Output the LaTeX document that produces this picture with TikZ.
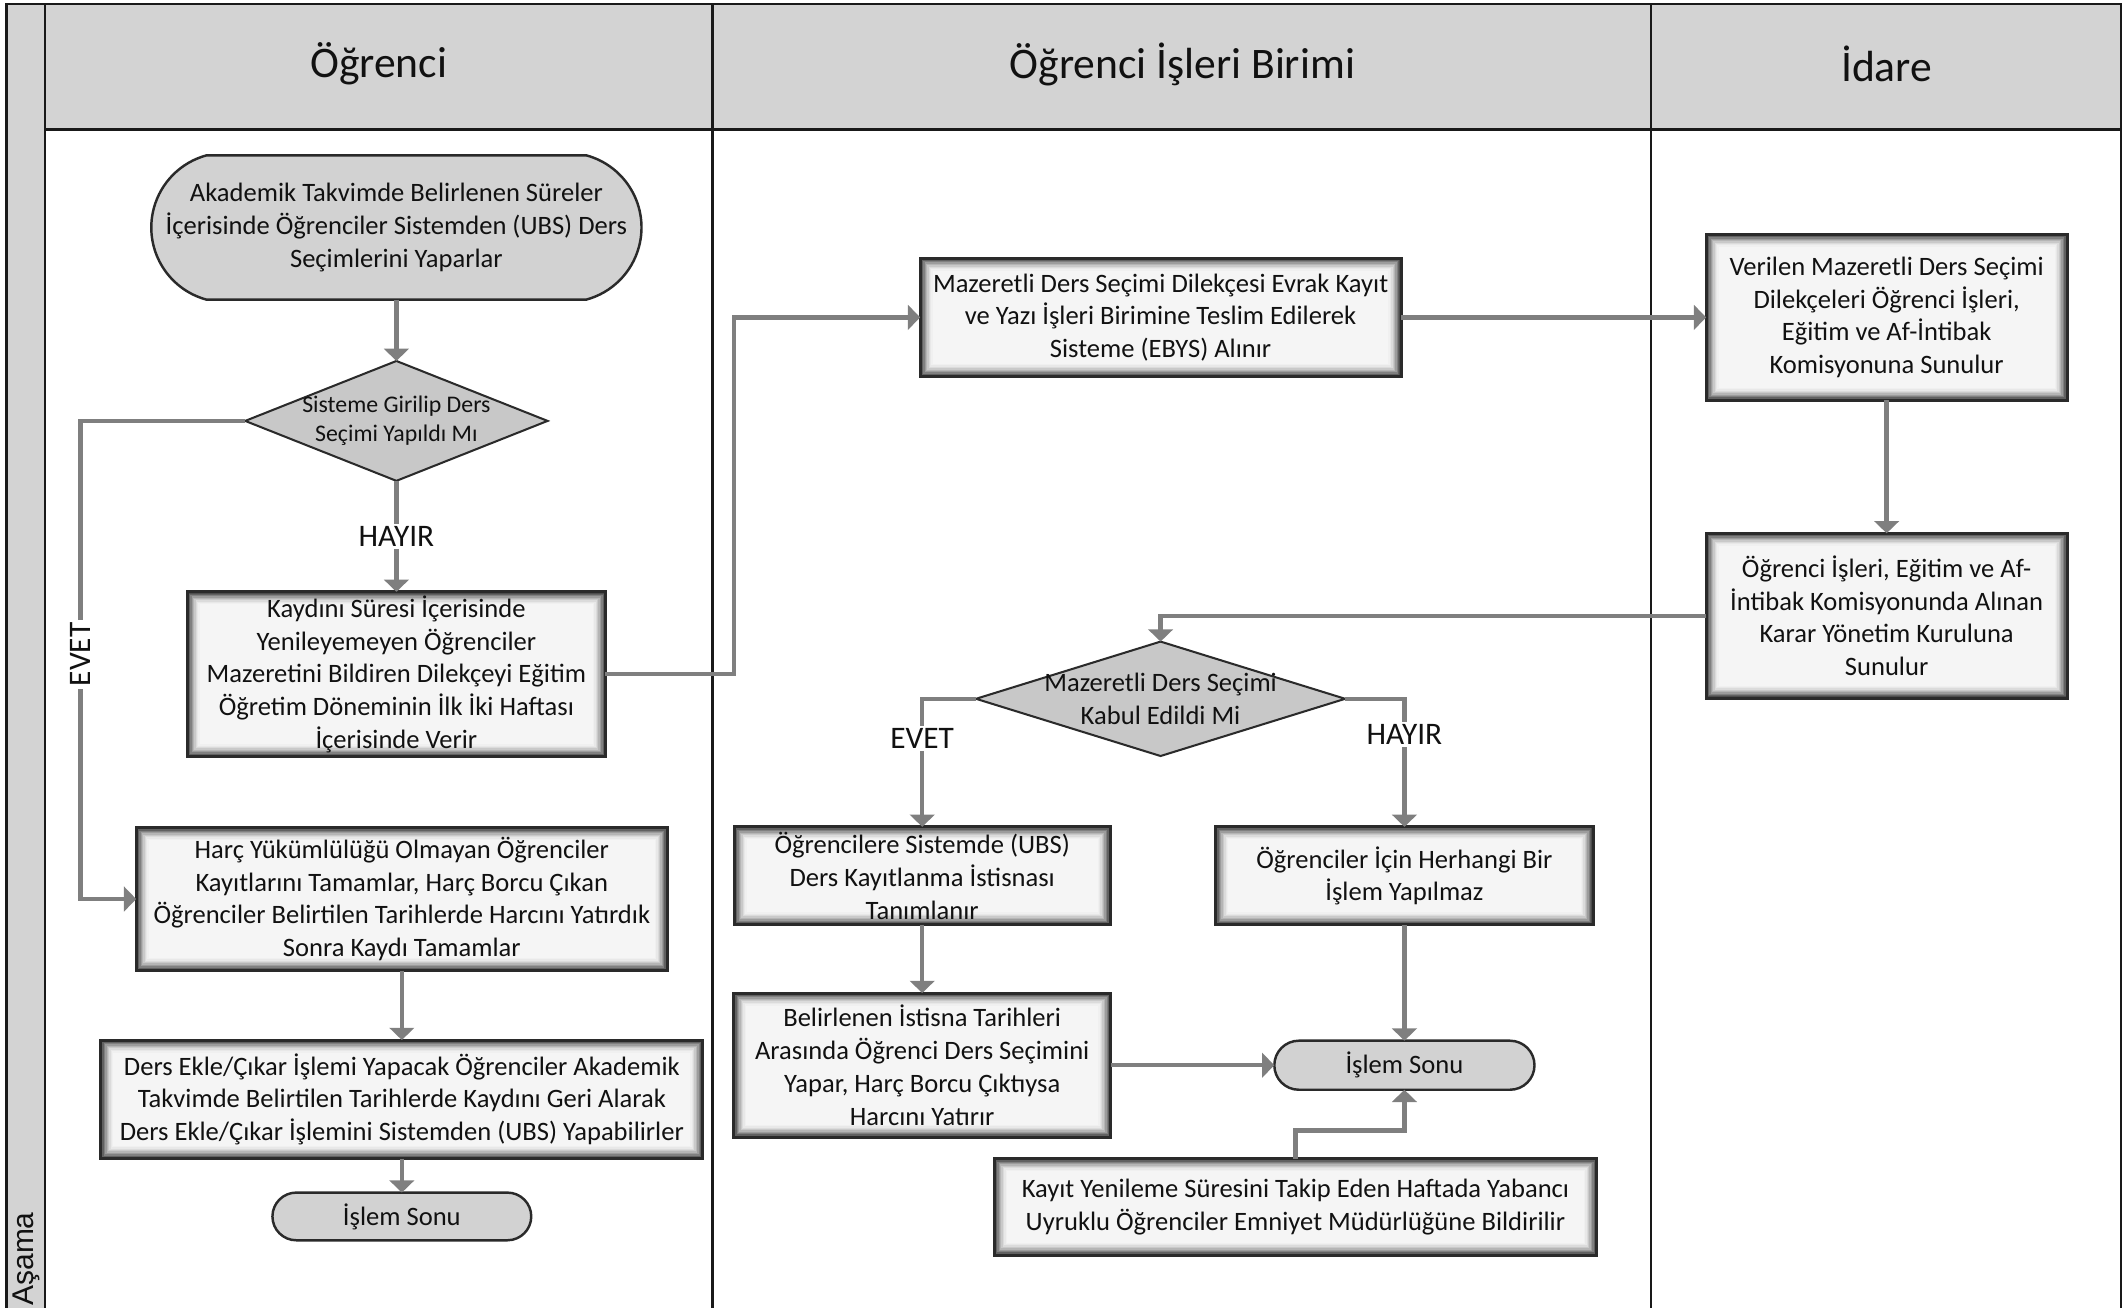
\documentclass[tikz,border=0pt]{standalone}
\usepackage{fontspec}
\setmainfont{Carlito}
\newfontfamily\asamafont{Liberation Sans}
\usetikzlibrary{shapes.geometric,shapes.misc,arrows.meta}
\definecolor{lanegray}{HTML}{D3D3D3}
\definecolor{termgray}{HTML}{D2D2D2}
\definecolor{diagray}{HTML}{C8C8C8}
\definecolor{arrowgray}{HTML}{7F7F7F}
\definecolor{boxborder}{HTML}{2A2A2A}
\definecolor{txt}{HTML}{111111}
\tikzset{
  bodyfont/.style={font=\fontsize{19.5}{24}\selectfont},
  glowbox/.style={draw=boxborder, line width=2.2pt, fill=white!30!black, align=center,
    bodyfont, text=txt, inner sep=0pt, outer sep=0pt,
    path picture={
      \foreach \d/\c in {1.2/38,2.2/50,3.2/61,4.2/71,5.2/79,6.2/86,7.2/91,8.2/94,9.2/96}{
        \fill[white!\c!black] ([shift={(\d pt,-\d pt)}]path picture bounding box.north west)
          rectangle ([shift={(-\d pt,\d pt)}]path picture bounding box.south east);
      }
    }},
  terminal/.style={shape=rounded rectangle, draw=boxborder, line width=1.8pt, fill=termgray,
    align=center, bodyfont, text=txt, inner sep=0pt, outer sep=0pt},
  decision/.style={shape=diamond, draw=boxborder, line width=1.5pt, fill=diagray,
    inner sep=0pt, outer sep=0pt},
  lanehead/.style={font=\fontsize{32}{38}\selectfont, text=txt},
  arr/.style={draw=arrowgray, line width=3.2pt, -{Triangle[length=9pt,width=18pt]}},
  lbl/.style={fill=white, font=\fontsize{23}{27}\selectfont, text=txt, inner sep=2pt},
  laneline/.style={draw=black!90, line width=2pt},
}
\begin{document}
\begin{tikzpicture}[x=1pt,y=-1pt]
\useasboundingbox (0,0) rectangle (1560,960);
% swimlane frame
\fill[lanegray] (33,3) rectangle (1557,95);
\fill[lanegray] (5,3) rectangle (33,962);
\draw[laneline] (5,962) -- (5,3) -- (1557,3) -- (1557,962);
\draw[laneline] (33,95) -- (1557,95);
\draw[laneline] (33,3) -- (33,962);
\draw[laneline] (523,3) -- (523,962);
\draw[laneline] (1212,3) -- (1212,962);
\node[lanehead] (h1) at (278,47) {Öğrenci};
\node[lanehead] (h2) at (868,47) {Öğrenci İşleri Birimi};
\node[lanehead] (h3) at (1385,47) {İdare};
\node[rotate=90, anchor=west, font=\asamafont\fontsize{22}{26}\selectfont, text=txt] (asama) at (19,962) {Aşama};

% lane 1
\node[terminal, rounded rectangle arc length=150, minimum width=353pt, minimum height=106pt] (start) at (291,167)
  {Akademik Takvimde Belirlenen Süreler\\İçerisinde Öğrenciler Sistemden (UBS) Ders\\Seçimlerini Yaparlar};
\node[decision, minimum width=222pt, minimum height=88pt,
  label={[align=center, font=\fontsize{17.5}{21}\selectfont, text=txt]center:Sisteme Girilip Ders\\Seçimi Yapıldı Mı}] (d1) at (291,309) {};
\node[glowbox, minimum width=307pt, minimum height=121pt] (b4) at (291,495)
  {Kaydını Süresi İçerisinde\\Yenileyemeyen Öğrenciler\\Mazeretini Bildiren Dilekçeyi Eğitim\\Öğretim Döneminin İlk İki Haftası\\İçerisinde Verir};
\node[glowbox, minimum width=390pt, minimum height=105pt] (b6) at (295,660)
  {Harç Yükümlülüğü Olmayan Öğrenciler\\Kayıtlarını Tamamlar, Harç Borcu Çıkan\\Öğrenciler Belirtilen Tarihlerde Harcını Yatırdık\\Sonra Kaydı Tamamlar};
\node[glowbox, minimum width=442pt, minimum height=87pt] (b7) at (295,807)
  {Ders Ekle/Çıkar İşlemi Yapacak Öğrenciler Akademik\\Takvimde Belirtilen Tarihlerde Kaydını Geri Alarak\\Ders Ekle/Çıkar İşlemini Sistemden (UBS) Yapabilirler};
\node[terminal, minimum width=190pt, minimum height=35pt] (t8) at (295,893) {İşlem Sonu};

% lane 2
\node[glowbox, minimum width=353pt, minimum height=87pt] (b9) at (852,233)
  {Mazeretli Ders Seçimi Dilekçesi Evrak Kayıt\\ve Yazı İşleri Birimine Teslim Edilerek\\Sisteme (EBYS) Alınır};
\node[decision, minimum width=271pt, minimum height=84pt,
  label={[align=center, font=\fontsize{19.5}{24}\selectfont, text=txt]center:Mazeretli Ders Seçimi\\Kabul Edildi Mi}] (d10) at (852,513) {};
\node[glowbox, minimum width=276pt, minimum height=72pt] (b12) at (677,643)
  {Öğrencilere Sistemde (UBS)\\Ders Kayıtlanma İstisnası\\Tanımlanır};
\node[glowbox, minimum width=277pt, minimum height=72pt] (b13) at (1031,643)
  {Öğrenciler İçin Herhangi Bir\\İşlem Yapılmaz};
\node[glowbox, minimum width=277pt, minimum height=106pt] (b14) at (677,782)
  {Belirlenen İstisna Tarihleri\\Arasında Öğrenci Ders Seçimini\\Yapar, Harç Borcu Çıktıysa\\Harcını Yatırır};
\node[terminal, minimum width=191pt, minimum height=36pt] (t15) at (1031,782) {İşlem Sonu};
\node[glowbox, minimum width=442pt, minimum height=71pt] (b16) at (951,886)
  {Kayıt Yenileme Süresini Takip Eden Haftada Yabancı\\Uyruklu Öğrenciler Emniyet Müdürlüğüne Bildirilir};

% lane 3
\node[glowbox, minimum width=265pt, minimum height=122pt] (b17) at (1385,233)
  {Verilen Mazeretli Ders Seçimi\\Dilekçeleri Öğrenci İşleri,\\Eğitim ve Af-İntibak\\Komisyonuna Sunulur};
\node[glowbox, minimum width=265pt, minimum height=121pt] (b18) at (1385,452)
  {Öğrenci İşleri, Eğitim ve Af-\\İntibak Komisyonunda Alınan\\Karar Yönetim Kuruluna\\Sunulur};

% connectors
\coordinate (e1) at (59,309);
\coordinate (e2) at (539,495);
\coordinate (e3) at (951,830);
\draw[arr] (start.south) -- (d1.north);
\draw[arr] (d1.south) -- (b4.north) node[lbl, midway] {HAYIR};
\draw[arr] (d1.west) -- (e1) |- (b6.west) node[lbl, pos=0.244, rotate=90] {EVET};
\draw[arr] (b4.east) -- (e2) |- (b9.west);
\draw[arr] (b9.east) -- (b17.west);
\draw[arr] (b17.south) -- (b18.north);
\draw[arr] (b18.west) -| (d10.north);
\draw[arr] (d10.west) -| (b12.north) node[lbl, pos=0.655] {EVET};
\draw[arr] (d10.east) -| (b13.north) node[lbl, pos=0.64] {HAYIR};
\draw[arr] (b12.south) -- (b14.north);
\draw[arr] (b14.east) -- (t15.west);
\draw[arr] (b13.south) -- (t15.north);
\draw[arr] (b16.north) -- (e3) -| (t15.south);
\draw[arr] (b6.south) -- (b7.north);
\draw[arr] (b7.south) -- (t8.north);
\end{tikzpicture}
\end{document}
